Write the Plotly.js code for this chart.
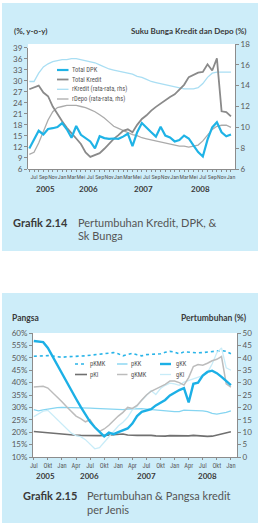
<!DOCTYPE html>
<html><head><meta charset="utf-8">
<script src="https://cdn.plot.ly/plotly-3.0.1.min.js"></script>
<style>
body{margin:0;background:#fff;width:258px;height:523px;overflow:hidden;position:relative}
.panel{position:absolute;background:#cdedf9}
.plotbg{position:absolute;background:#fff}
.chart{position:absolute;left:0;width:258px}
</style></head><body>
<div class="panel" style="left:2px;top:3px;width:256px;height:248px"></div>
<div class="panel" style="left:2px;top:293px;width:256px;height:230px"></div>
<div class="plotbg" style="left:28px;top:44px;width:207px;height:125px"></div>
<div class="plotbg" style="left:33px;top:333px;width:204px;height:124px"></div>
<div id="c1" class="chart" style="top:0;height:252px"></div>
<div id="c2" class="chart" style="top:252px;height:271px"></div>
<script>
// ---------- Chart 1 data (Grafik 2.14) ----------
const topMonths = ['Jun-05','Jul-05','Aug-05','Sep-05','Oct-05','Nov-05','Dec-05','Jan-06','Feb-06','Mar-06','Apr-06','May-06','Jun-06','Jul-06','Aug-06','Sep-06','Oct-06','Nov-06','Dec-06','Jan-07','Feb-07','Mar-07','Apr-07','May-07','Jun-07','Jul-07','Aug-07','Sep-07','Oct-07','Nov-07','Dec-07','Jan-08','Feb-08','Mar-08','Apr-08','May-08','Jun-08','Jul-08','Aug-08','Sep-08','Oct-08','Nov-08','Dec-08','Jan-09'];
const topTickLabels = ['Jul','Sep','Nov','Jan','Mar','Mei','Jul','Sep','Nov','Jan','Mar','Mei','Jul','Sep','Nov','Jan','Mar','Mei','Jul','Sep','Nov','Jan'];
const topYears = ['2005','2006','2007','2008'];
const totalDPK = [11.6,14.0,16.4,15.4,16.9,17.1,17.4,18.5,16.8,14.5,17.7,15.3,14.3,13.5,11.6,14.9,14.4,14.2,14.3,14.2,14.8,15.6,12.2,16.0,18.5,17.1,16.0,14.8,17.5,15.1,14.6,13.5,13.9,15.1,14.3,12.4,10.6,9.4,14.0,17.3,18.7,16.0,14.9,15.4];
const totalKredit = [27.7,28.2,28.7,26.8,25.8,23.0,20.8,19.0,17.2,15.6,14.3,12.8,10.5,9.3,9.8,10.3,11.5,12.8,14.2,15.2,16.4,16.8,16.0,18.0,19.6,20.6,21.9,22.9,23.8,24.8,25.6,26.3,27.6,28.9,31.0,31.6,32.2,32.4,34.5,32.8,36.1,21.7,21.5,20.3];
const rKredit = [14.4,14.4,15.2,15.8,16.1,16.3,16.4,16.5,16.5,16.6,16.6,16.5,16.4,16.3,16.2,16.0,15.8,15.6,15.5,15.4,15.3,15.2,15.1,14.9,14.8,14.6,14.4,14.3,14.2,14.1,14.0,13.9,13.8,13.7,13.7,13.7,13.8,14.2,14.8,15.2,15.3,15.3,15.3,15.3];
const rDepo = [7.4,7.6,8.5,9.7,10.7,11.5,11.9,12.0,12.1,12.1,12.1,12.0,11.9,11.7,11.5,11.2,10.9,10.5,10.1,9.9,9.7,9.5,9.3,9.2,9.0,8.9,8.8,8.7,8.6,8.5,8.4,8.3,8.2,8.2,8.1,8.2,8.3,8.7,9.3,9.8,10.1,10.2,10.2,10.0];
const topNames = ['Total DPK','Total Kredit','rKredit (rata-rata, rhs)','rDepo (rata-rata, rhs)'];

// ---------- Chart 2 data (Grafik 2.15) ----------
const bottomMonths = ['Jul-05','Aug-05','Sep-05','Oct-05','Nov-05','Dec-05','Jan-06','Feb-06','Mar-06','Apr-06','May-06','Jun-06','Jul-06','Aug-06','Sep-06','Oct-06','Nov-06','Dec-06','Jan-07','Feb-07','Mar-07','Apr-07','May-07','Jun-07','Jul-07','Aug-07','Sep-07','Oct-07','Nov-07','Dec-07','Jan-08','Feb-08','Mar-08','Apr-08','May-08','Jun-08','Jul-08','Aug-08','Sep-08','Oct-08','Nov-08','Dec-08','Jan-09'];
const bottomTickLabels = ['Jul','Okt','Jan','Apr','Jul','Okt','Jan','Apr','Jul','Okt','Jan','Apr','Jul','Okt','Jan'];
const bottomYears = ['2005','2006','2007','2008'];
const pKMK = [50.6,50.8,51.0,50.9,50.7,50.5,50.2,50.4,50.6,50.7,50.7,50.8,51.0,51.2,51.4,51.6,51.8,52.1,51.6,50.8,51.3,51.8,51.2,50.8,51.3,51.4,51.4,51.6,52.2,52.6,52.3,51.6,52.4,52.2,52.1,52.0,52.1,52.3,52.5,52.8,52.9,52.6,51.6];
const pKK = [29.1,28.6,29.0,29.4,29.7,29.9,30.0,30.0,29.9,29.9,29.9,29.8,29.7,29.6,29.5,29.4,29.2,29.0,28.9,29.1,29.3,29.4,29.5,29.5,29.3,29.1,29.0,28.8,28.7,28.5,28.3,28.3,28.9,28.8,28.8,28.8,28.6,28.3,27.6,27.3,27.5,28.0,28.6];
const pKI = [20.3,20.1,19.9,19.7,19.5,19.3,19.1,19.0,18.9,18.8,18.7,18.6,18.5,18.5,18.6,18.7,18.8,19.0,19.2,19.3,18.9,18.7,18.7,18.8,18.9,18.7,18.5,18.3,18.4,18.6,18.6,18.3,18.3,18.5,18.7,18.5,18.3,18.3,18.4,18.8,19.2,19.6,20.2];
const gKK = [46.8,46.5,46.3,44.0,40.5,37.5,33.8,30.5,27.0,23.5,20.2,17.0,14.2,12.0,10.0,8.3,9.8,9.2,10.0,10.8,11.5,13.5,16.5,18.2,18.6,19.3,20.8,22.0,23.0,24.8,26.0,27.0,27.8,22.0,29.5,30.0,32.8,34.3,34.8,33.8,32.3,30.5,29.0];
const gKMK = [28.2,28.4,28.5,27.8,26.0,24.5,22.3,20.3,18.3,16.5,15.5,14.2,15.0,12.0,10.3,11.3,12.8,14.8,16.5,18.0,20.0,19.6,20.8,23.0,25.0,26.5,27.4,28.4,29.3,30.6,30.6,30.0,29.0,32.0,36.5,37.3,37.0,37.8,38.8,39.4,40.5,29.5,28.2];
const gKI = [16.3,17.3,18.5,18.8,17.0,15.2,13.3,11.3,9.6,8.6,8.2,7.0,5.0,3.3,3.8,6.0,7.8,10.3,12.5,14.0,16.0,19.0,20.5,22.8,24.8,26.8,25.2,27.6,28.9,29.8,29.5,28.9,30.2,30.8,31.6,32.3,32.8,34.0,37.5,42.0,44.0,36.0,35.0];
const bottomNames = ['pKMK','pKK','gKK','pKI','gKMK','gKI'];

// ---------- styling ----------
const FONT = 'Lato, "Open Sans", sans-serif';
const NARROW = '"Liberation Sans Narrow", "Roboto Condensed", "DejaVu Sans Condensed", Lato, sans-serif';
const AX = '#8c8c8c', TXT = '#5a5a5a', DARK = '#3a3a3a';

function geom(o){
  const pl=o.l, pr=o.W-o.r, pt=o.divTop+o.t, pb=o.divTop+o.H-o.b;
  return {px:x=>(x-pl)/(pr-pl), py:y=>(pb-y)/(pb-pt)};
}
function txt(g,x,y,s,size,opt){
  opt=opt||{};
  return {xref:'paper',yref:'paper',x:g.px(x),y:g.py(y),text:s,showarrow:false,
    xanchor:opt.anchor||'left',yanchor:'middle',borderpad:0,
    font:{family:opt.family||FONT,size:size,color:opt.color||TXT,weight:opt.bold?'bold':'normal'}};
}
function legLine(g,x1,x2,y,line){
  return {type:'line',xref:'paper',yref:'paper',x0:g.px(x1),x1:g.px(x2),y0:g.py(y),y1:g.py(y),line:line};
}
const axisBase = {showline:true,linecolor:AX,linewidth:1,ticks:'outside',tickcolor:AX,tickwidth:1,
  showgrid:false,zeroline:false,fixedrange:true};

// ---------- Chart 1 ----------
const g1 = geom({W:258,H:252,divTop:0,l:28,r:23,t:44,b:83});
const topStyles = [
  {color:'#1fb3e6',width:2.2},
  {color:'#8a8a8a',width:1.8},
  {color:'#a9def3',width:1.3},
  {color:'#ababab',width:1.3}
];
const topSeries = [totalDPK,totalKredit,rKredit,rDepo];
const topAxis = ['y2','y2','y','y'];
const traces1 = [];
[2,3,1,0].forEach(i=>{
  traces1.push({type:'scatter',mode:'lines',name:topNames[i],x:topMonths,y:topSeries[i],
    xaxis:'x',yaxis:topAxis[i],line:Object.assign({},topStyles[i]),hoverinfo:'skip'});
});
const topTickText = topMonths.map((m,k)=> k%2===1 ? topTickLabels[(k-1)/2] : '');
const ann1 = [
  txt(g1,13,31,'(%, y-o-y)',8,{bold:true,color:DARK}),
  txt(g1,248,31,'Suku Bunga Kredit dan Depo (%)',8,{bold:true,color:DARK,anchor:'right'}),
  txt(g1,12,222,'Grafik 2.14',11,{bold:true,color:DARK}),
  txt(g1,77,222,'Pertumbuhan Kredit, DPK, &amp;',11,{color:'#555'}),
  txt(g1,77,235.5,'Sk Bunga',11,{color:'#555'})
];
const yearX1 = [45,88,143,200];
topYears.forEach((y,i)=>ann1.push(txt(g1,yearX1[i],188.5,y,8,{bold:true,color:DARK,anchor:'center'})));
const shapes1 = [];
const legY1 = [70,79.5,89.3,99];
topNames.forEach((n,i)=>{
  shapes1.push(legLine(g1,57,68.5,legY1[i],{color:topStyles[i].color,width:topStyles[i].width}));
  ann1.push(txt(g1,70.5,legY1[i],n,6.5,{family:NARROW,color:'#555'}));
});
const layout1 = {
  width:258,height:252,margin:{l:28,r:23,t:44,b:83,pad:0},
  paper_bgcolor:'rgba(0,0,0,0)',plot_bgcolor:'rgba(0,0,0,0)',showlegend:false,
  font:{family:FONT,color:TXT},
  xaxis:Object.assign({},axisBase,{type:'category',range:[-0.28,43.86],tickmode:'array',
    tickvals:topMonths,ticktext:topTickText,ticklen:2,tickangle:0,anchor:'y',
    tickfont:{family:NARROW,size:6,color:TXT}}),
  yaxis:Object.assign({},axisBase,{domain:[0,1],range:[6,18],tick0:6,dtick:2,side:'right',anchor:'x',
    ticklen:3,tickfont:{family:FONT,size:8,color:TXT}}),
  yaxis2:Object.assign({},axisBase,{domain:[0,0.9704],range:[6,39],tick0:6,dtick:3,side:'left',anchor:'x',
    ticklen:3,tickfont:{family:FONT,size:8,color:TXT}}),
  annotations:ann1,shapes:shapes1
};
Plotly.newPlot('c1',traces1,layout1,{staticPlot:true,displayModeBar:false});

// ---------- Chart 2 ----------
const g2 = geom({W:258,H:271,divTop:252,l:33,r:21,t:81,b:66});
const bottomSeries = [pKMK,pKK,gKK,pKI,gKMK,gKI];
const bottomAxis = ['y','y','y2','y','y2','y2'];
const bottomStyles = [
  {color:'#2ab4e8',width:1.6,dash:'dot'},
  {color:'#86d5f1',width:1.4},
  {color:'#1cb0e6',width:2.4},
  {color:'#707070',width:1.6},
  {color:'#bcbcbc',width:1.5},
  {color:'#c8ecf8',width:1.3}
];
const traces2 = [];
[3,1,0,5,4,2].forEach(i=>{
  traces2.push({type:'scatter',mode:'lines',name:bottomNames[i],x:bottomMonths,y:bottomSeries[i],
    xaxis:'x',yaxis:bottomAxis[i],line:Object.assign({},bottomStyles[i]),hoverinfo:'skip'});
});
const bottomTickVals = bottomMonths.filter((m,k)=>k%3===0);
const ann2 = [
  txt(g2,11,317.5,'Pangsa',8.5,{bold:true,color:DARK}),
  txt(g2,248,317.5,'Pertumbuhan (%)',8.5,{bold:true,color:DARK,anchor:'right'}),
  txt(g2,22,495,'Grafik 2.15',11,{bold:true,color:DARK}),
  txt(g2,86,495,'Pertumbuhan &amp; Pangsa kredit',11,{color:'#555'}),
  txt(g2,86,509,'per Jenis',11,{color:'#555'})
];
const yearX2 = [45,89,146,207];
bottomYears.forEach((y,i)=>ann2.push(txt(g2,yearX2[i],475.5,y,8,{bold:true,color:DARK,anchor:'center'})));
const shapes2 = [];
const legPos2 = [[75,87,89,364],[117,127.5,130,364],[160,171,174.5,364],[75,87,89,374.5],[117,127.5,130,374.5],[160,171,174.5,374.5]];
bottomNames.forEach((n,i)=>{
  const p = legPos2[i], s = bottomStyles[i];
  shapes2.push(legLine(g2,p[0],p[1],p[3],{color:s.color,width:s.width,dash:s.dash||'solid'}));
  ann2.push(txt(g2,p[2],p[3],n,6.5,{family:NARROW,color:'#555'}));
});
const layout2 = {
  width:258,height:271,margin:{l:33,r:21,t:81,b:66,pad:0},
  paper_bgcolor:'rgba(0,0,0,0)',plot_bgcolor:'rgba(0,0,0,0)',showlegend:false,
  font:{family:FONT,color:TXT},
  xaxis:Object.assign({},axisBase,{type:'category',range:[-0.17,43.3],tickmode:'array',
    tickvals:bottomTickVals,ticktext:bottomTickLabels,ticklen:2,tickangle:0,anchor:'y',
    tickfont:{family:NARROW,size:6.5,color:TXT}}),
  yaxis:Object.assign({},axisBase,{range:[10,60],tick0:10,dtick:5,ticksuffix:'%',side:'left',
    ticklen:3,tickfont:{family:FONT,size:8,color:TXT}}),
  yaxis2:Object.assign({},axisBase,{range:[0,50],tick0:0,dtick:5,side:'right',overlaying:'y',anchor:'x',
    ticklen:3,tickfont:{family:FONT,size:8,color:TXT}}),
  annotations:ann2,shapes:shapes2
};
Plotly.newPlot('c2',traces2,layout2,{staticPlot:true,displayModeBar:false});
</script>
</body></html>
